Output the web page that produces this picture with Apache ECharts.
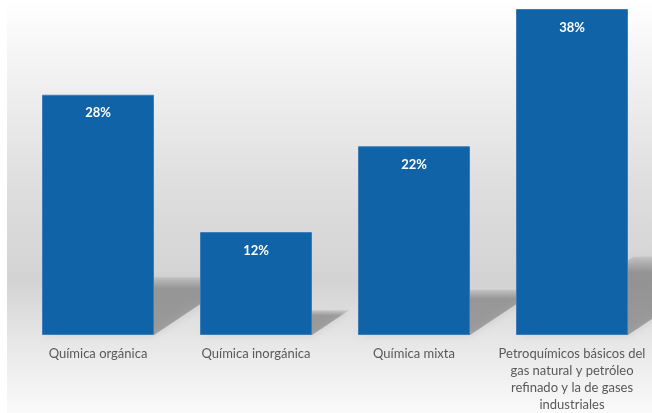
<!DOCTYPE html>
<html>
<head>
<meta charset="utf-8">
<script src="https://cdn.jsdelivr.net/npm/echarts@6/dist/echarts.min.js"></script>
<style>
  html, body { margin: 0; padding: 0; background: #ffffff; }
  #chart { width: 652px; height: 413px; }
</style>
</head>
<body>
<div id="chart"></div>
<script>
// Participation by petrochemical segment (percent)
const categories = [
  'Química orgánica',
  'Química inorgánica',
  'Química mixta',
  'Petroquímicos básicos del\ngas natural y petróleo\nrefinado y la de gases\nindustriales'
];
const shares = [28, 12, 22, 38];

const BAR_COLOR = '#1163a7';
const BAR_WIDTH = 112;

const chart = echarts.init(document.getElementById('chart'), null, { renderer: 'canvas' });

// Perspective drop shadow behind each bar, leaning to the upper right
function renderShadow(params, api) {
  const idx = api.value(0);
  const val = api.value(1);
  const top = api.coord([idx, val]);
  const base = api.coord([idx, 0]);
  const half = BAR_WIDTH / 2;
  const h = (base[1] - top[1]) * 0.24;
  const s = h * 1.5;
  const x0 = base[0] - half, x1 = base[0] + half, y0 = base[1];
  return {
    type: 'polygon',
    shape: {
      points: [[x0, y0], [x1, y0], [x1 + s, y0 - h], [x0 + s, y0 - h]]
    },
    style: {
      fill: new echarts.graphic.LinearGradient(0, 0, 0, 1, [
        { offset: 0, color: 'rgba(80,80,80,0.12)' },
        { offset: 0.2, color: 'rgba(80,80,80,0.40)' },
        { offset: 1, color: 'rgba(80,80,80,0.42)' }
      ]),
      shadowBlur: 8,
      shadowColor: 'rgba(80,80,80,0.35)'
    }
  };
}

chart.setOption({
  animation: false,
  graphic: [{
    type: 'rect',
    z: -10,
    silent: true,
    shape: { x: 7, y: 0, width: 645, height: 413 },
    style: {
      fill: new echarts.graphic.LinearGradient(0, 0, 0, 1, [
        { offset: 0, color: '#ffffff' },
        { offset: 0.2, color: '#f0f0f0' },
        { offset: 0.45, color: '#dedede' },
        { offset: 0.68, color: '#d3d3d3' },
        { offset: 0.82, color: '#e6e6e6' },
        { offset: 1, color: '#fafafa' }
      ])
    }
  }],
  grid: { left: 19, right: 1, top: 9, bottom: 75, containLabel: false },
  xAxis: {
    type: 'category',
    data: categories,
    axisLine: { show: false },
    axisTick: { show: false },
    axisLabel: {
      interval: 0,
      margin: 10,
      color: '#595959',
      fontFamily: 'Lato',
      fontSize: 13,
      lineHeight: 17
    }
  },
  yAxis: {
    type: 'value',
    min: 0,
    max: 38,
    show: false,
    splitLine: { show: false }
  },
  series: [
    {
      type: 'custom',
      z: 1,
      silent: true,
      renderItem: renderShadow,
      data: shares.map((v, i) => [i, v])
    },
    {
      type: 'bar',
      z: 2,
      data: shares,
      barWidth: BAR_WIDTH,
      itemStyle: { color: BAR_COLOR, borderColor: '#3b7dbb', borderWidth: 1 },
      label: {
        show: true,
        position: 'insideTop',
        distance: 12,
        color: '#ffffff',
        fontFamily: 'Lato',
        fontWeight: 'bold',
        fontSize: 13,
        formatter: p => p.value + '%'
      }
    }
  ]
});
</script>
</body>
</html>
